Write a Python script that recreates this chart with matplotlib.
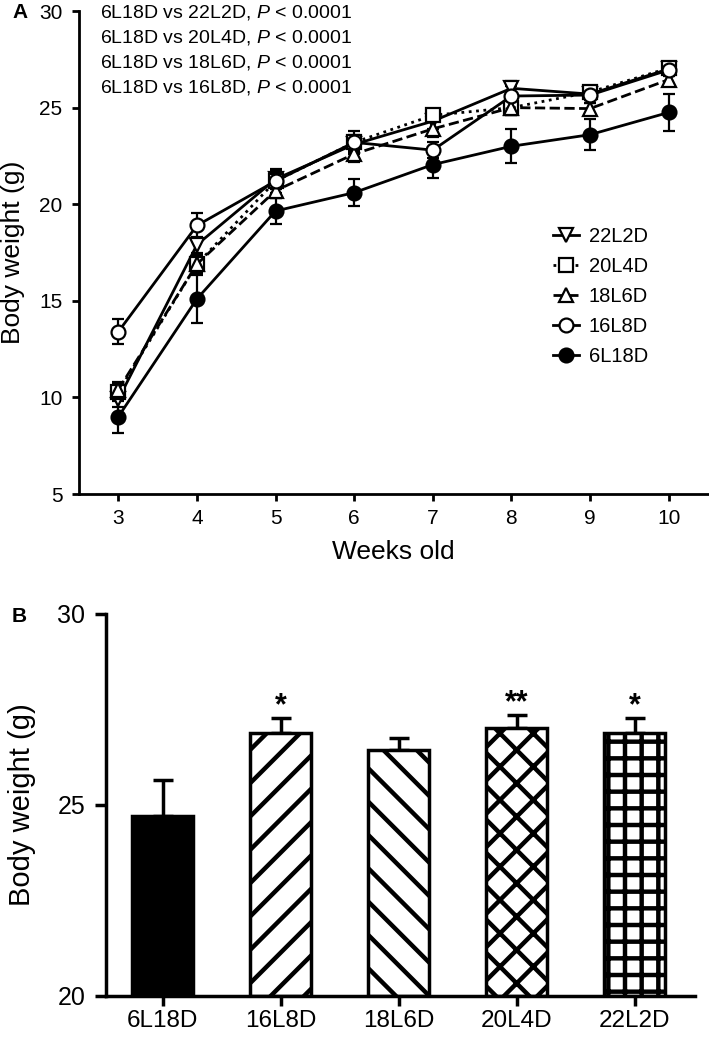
import matplotlib
matplotlib.use("Agg")
import matplotlib.pyplot as plt
import numpy as np

plt.rcParams['font.family'] = ['Liberation Sans', 'DejaVu Sans']
plt.rcParams['mathtext.fontset'] = 'custom'
plt.rcParams['mathtext.rm'] = 'Liberation Sans'
plt.rcParams['mathtext.it'] = 'Liberation Sans:italic'
plt.rcParams['hatch.linewidth'] = 3.2

# ---------------- data ----------------
weeks = [3, 4, 5, 6, 7, 8, 9, 10]
groups = ['22L2D', '20L4D', '18L6D', '16L8D', '6L18D']
w22L2D = [9.9, 17.9, 21.3, 23.1, 24.3, 26.0, 25.7, 27.0]
w20L4D = [10.3, 16.9, 21.2, 23.2, 24.6, 25.0, 25.8, 27.05]
w18L6D = [10.4, 16.9, 20.7, 22.6, 23.9, 25.0, 24.95, 26.45]
w16L8D = [13.4, 18.9, 21.2, 23.2, 22.8, 25.6, 25.65, 26.95]
w6L18D = [9.0, 15.1, 19.65, 20.6, 22.05, 23.0, 23.6, 24.75]
e22L2D = [0.4, 0.4, 0.4, 0.4, 0.4, 0.4, 0.3, 0.3]
e20L4D = [0.4, 0.4, 0.4, 0.4, 0.3, 0.4, 0.3, 0.3]
e18L6D = [0.4, 0.5, 0.4, 0.4, 0.4, 0.4, 0.3, 0.3]
e16L8D = [0.65, 0.65, 0.6, 0.6, 0.4, 0.5, 0.4, 0.3]
e6L18D = [0.83, 1.25, 0.67, 0.7, 0.7, 0.88, 0.8, 0.97]

comparisons = ['6L18D vs 22L2D', '6L18D vs 20L4D', '6L18D vs 18L6D', '6L18D vs 16L8D']
p_text = '< 0.0001'

bar_groups = ['6L18D', '16L8D', '18L6D', '20L4D', '22L2D']
bar_values = [24.70, 26.88, 26.44, 27.01, 26.88]
bar_errors = [0.96, 0.39, 0.31, 0.34, 0.39]
bar_stars = ['', '*', '', '**', '*']

# ---------------- figure ----------------
fig = plt.figure(figsize=(7.09, 10.39), dpi=100)

# Panel A
axA = fig.add_axes([0.1114, 0.5245, 0.8872, 0.4649])
series = [
    (w22L2D, e22L2D, 'v', '-', 'white'),
    (w20L4D, e20L4D, 's', ':', 'white'),
    (w18L6D, e18L6D, '^', '--', 'white'),
    (w16L8D, e16L8D, 'o', '-', 'white'),
    (w6L18D, e6L18D, 'o', '-', 'black'),
]
handles = []
for name, (vals, errs, mk, ls, fc) in zip(groups, series):
    c = axA.errorbar(weeks, vals, yerr=errs, marker=mk, linestyle=ls, color='black',
                     markerfacecolor=fc, markeredgecolor='black', markersize=10,
                     markeredgewidth=1.6, linewidth=2.0, elinewidth=1.6, capsize=4.5,
                     capthick=1.6, label=name, clip_on=False)
    handles.append(c[0])

axA.set_xlim(2.5, 10.5)
axA.set_ylim(5, 30)
axA.set_xticks(weeks)
axA.set_yticks([5, 10, 15, 20, 25, 30])
for s in ['top', 'right']:
    axA.spines[s].set_visible(False)
for s in ['left', 'bottom']:
    axA.spines[s].set_linewidth(2.0)
axA.tick_params(axis='both', width=2.0, length=5, labelsize=15)
axA.tick_params(axis='x', pad=6)
axA.tick_params(axis='y', pad=7)
axA.set_xlabel('Weeks old', fontsize=19)
axA.set_ylabel('Body weight (g)', fontsize=19)
axA.xaxis.set_label_coords(0.5, -0.095)
axA.yaxis.set_label_coords(-0.086, 0.5)

for i, comp in enumerate(comparisons):
    axA.text(0.0334, 0.996 - i * 0.0515, comp + ', $\\it{P}$ ' + p_text,
             transform=axA.transAxes, fontsize=14, va='center', ha='left')

leg = axA.legend(handles=handles, labels=groups, loc='upper left',
                 bbox_to_anchor=(0.74, 0.57), frameon=False,
                 fontsize=14.5, handlelength=1.3, handletextpad=0.5,
                 labelspacing=0.55, borderaxespad=0)

# Panel B
axB = fig.add_axes([0.1495, 0.0415, 0.8307, 0.3676])
x = np.arange(len(bar_groups))
hatches = [None, '/', '\\', 'x', '+']
for xi, v, e, h in zip(x, bar_values, bar_errors, hatches):
    fc = 'black' if h is None else 'white'
    axB.bar(xi, v - 20, bottom=20, width=0.52, color=fc, edgecolor='black',
            linewidth=2.5, hatch=h, zorder=2)
    axB.errorbar(xi, v, yerr=[[0], [e]], color='black', linewidth=0,
                 elinewidth=2.5, capsize=7, capthick=2.5, zorder=1)
for xi, v, e, st in zip(x, bar_values, bar_errors, bar_stars):
    if st:
        axB.text(xi, v + e + 0.32, st, ha='center', va='center', fontsize=22,
                 fontweight='bold')

axB.set_xlim(-0.48, 4.51)
axB.set_ylim(20, 30)
axB.set_yticks([20, 25, 30])
axB.set_xticks(x)
axB.set_xticklabels(bar_groups)
for s in ['top', 'right']:
    axB.spines[s].set_visible(False)
for s in ['left', 'bottom']:
    axB.spines[s].set_linewidth(2.5)
axB.tick_params(axis='both', width=2.5, length=8, labelsize=18)
axB.tick_params(axis='x', labelsize=17.5, pad=3, length=7)
axB.tick_params(axis='y', pad=7)
axB.set_ylabel('Body weight (g)', fontsize=21)
axB.yaxis.set_label_coords(-0.119, 0.5)

fig.text(12 / 709, 1 - 12 / 1039, 'A', fontsize=15, fontweight='bold', ha='left', va='center')
fig.text(12 / 709, 1 - 617 / 1039, 'B', fontsize=15, fontweight='bold', ha='left', va='center')

fig.savefig('out.png', dpi=100)
